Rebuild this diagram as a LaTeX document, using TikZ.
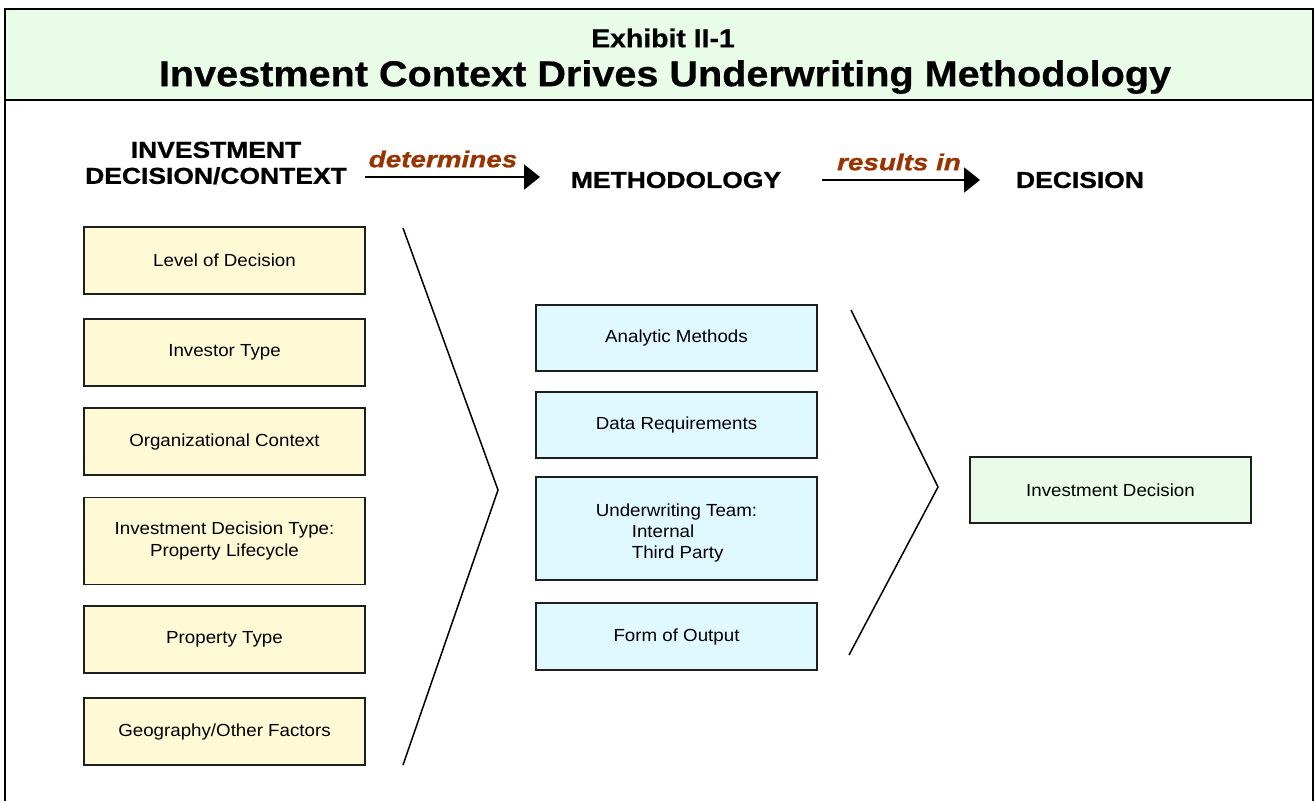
\documentclass[tikz,border=0pt]{standalone}
\usepackage{fontspec}
\setmainfont{Liberation Sans}[FakeStretch=1.07]
\newfontfamily\titlefont[FakeStretch=1.1,FakeBold=0.6]{Liberation Sans Bold}
\newfontfamily\heavy[FakeStretch=1.15,FakeBold=1]{Liberation Sans Bold}
\newfontfamily\heavyit[FakeStretch=1.21,FakeBold=1]{Liberation Sans Bold Italic}
\usetikzlibrary{arrows.meta}
\definecolor{titlegreen}{RGB}{232,252,232}
\definecolor{boxyellow}{RGB}{255,250,214}
\definecolor{boxblue}{RGB}{224,248,255}
\definecolor{boxgreen}{RGB}{232,252,232}
\definecolor{brownlbl}{RGB}{153,51,0}
\definecolor{boxedge}{RGB}{30,30,30}
\tikzset{
  basebox/.style={draw=boxedge, line width=1.6pt, minimum width=281pt, inner sep=0pt,
    font=\fontsize{17.5}{22}\selectfont, align=center},
  ctxbox/.style={basebox, fill=boxyellow},
  methbox/.style={basebox, fill=boxblue},
  decbox/.style={basebox, fill=boxgreen},
  header/.style={font=\heavy\fontsize{23}{26}\selectfont, align=center},
  flowlbl/.style={font=\heavyit\fontsize{23}{26}\selectfont, text=brownlbl},
  flowarrow/.style={line width=2pt, -{Triangle[length=16pt,width=25pt]}},
  chevron/.style={line width=1.5pt, line join=miter},
}
\begin{document}
\begin{tikzpicture}[x=1pt,y=-1pt]
\useasboundingbox (0,0) rectangle (1316,801);
% frame and title band
\fill[titlegreen] (5,9) rectangle (1313,100);
\draw[line width=2pt] (5,801) -- (5,9) -- (1313,9) -- (1313,801);
\draw[line width=2pt] (5,100) -- (1313,100);
\node[font=\titlefont\fontsize{25.8}{28}\selectfont] (exh) at (663,38) {Exhibit II-1};
\node[font=\titlefont\fontsize{36}{40}\selectfont] (ttl) at (665,77) {Investment Context Drives Underwriting Methodology};
% headers
\node[header] (hctx) at (216,163) {INVESTMENT\\DECISION/CONTEXT};
\node[header] (hmeth) at (676,180) {METHODOLOGY};
\node[header] (hdec) at (1080,180) {DECISION};
\coordinate (a1s) at (365,177);
\coordinate (a1e) at (540,177);
\coordinate (a2s) at (822,180);
\coordinate (a2e) at (980,180);
\draw[flowarrow] (a1s) -- (a1e);
\draw[flowarrow] (a2s) -- (a2e);
\node[flowlbl] (l1) at (443,159) {determines};
\node[flowlbl] (l2) at (899,162) {results in};
% context boxes
\node[ctxbox, minimum height=67pt] (c1) at (224.5,260.5) {Level of Decision};
\node[ctxbox, minimum height=67pt] (c2) at (224.5,352.5) {Investor Type};
\node[ctxbox, minimum height=67pt] (c3) at (224.5,441.5) {Organizational Context};
\node[ctxbox, minimum height=87pt] (c4) at (224.5,541) {Investment Decision Type:\\Property Lifecycle};
\node[ctxbox, minimum height=67pt] (c5) at (224.5,639.5) {Property Type};
\node[ctxbox, minimum height=67pt] (c6) at (224.5,731.5) {Geography/Other Factors};
% methodology boxes
\node[methbox, minimum height=66pt] (m1) at (676.5,338) {Analytic Methods};
\node[methbox, minimum height=66pt] (m2) at (676.5,425) {Data Requirements};
\node[methbox, minimum height=103pt, align=left, font=\fontsize{17.5}{21}\selectfont] (m3) at (676.5,528.5) {\rule{0pt}{21pt}Underwriting Team:\\\hspace*{36pt}Internal\\\hspace*{36pt}Third Party};
\node[methbox, minimum height=67pt] (m4) at (676.5,636.5) {Form of Output};
% decision box
\node[decbox, minimum height=66pt] (d1) at (1110.5,490) {Investment Decision};
% chevrons
\coordinate (ch1a) at (403,228);
\coordinate (ch1b) at (498,490);
\coordinate (ch1c) at (403,765);
\coordinate (ch2a) at (851,310);
\coordinate (ch2b) at (938,487);
\coordinate (ch2c) at (849,655);
\draw[chevron] (ch1a) -- (ch1b) -- (ch1c);
\draw[chevron] (ch2a) -- (ch2b) -- (ch2c);
\end{tikzpicture}
\end{document}
